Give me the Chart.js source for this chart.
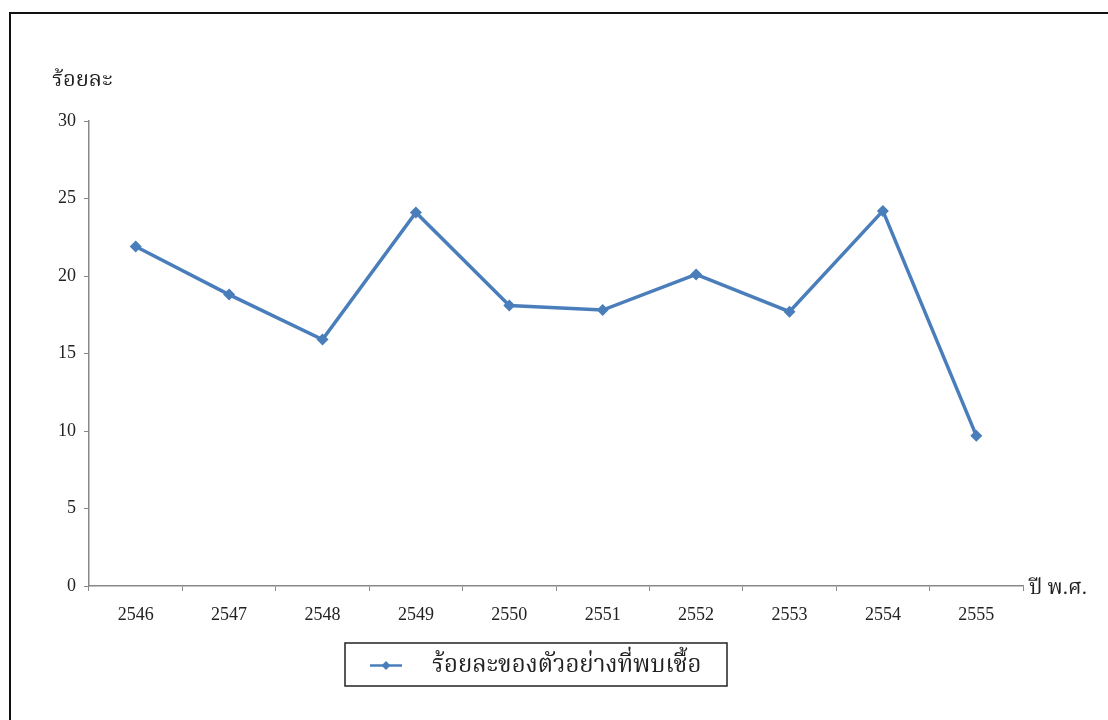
<!DOCTYPE html>
<html>
<head>
<meta charset="utf-8">
<script src="https://cdn.jsdelivr.net/npm/chart.js@4/dist/chart.umd.min.js"></script>
<style>
  html, body { margin: 0; padding: 0; background: #fff; }
  #wrap { position: relative; width: 1108px; height: 720px; overflow: hidden; }
  #frame { position: absolute; left: 9px; top: 12px; width: 1120px; height: 740px; border: 2px solid #111; box-sizing: border-box; }
  canvas { position: absolute; left: 0; top: 0; }
</style>
</head>
<body>
<div id="wrap">
  <div id="frame"></div>
  <canvas id="myChart" width="1108" height="720"></canvas>
</div>
<script>
// ปี พ.ศ. และร้อยละของตัวอย่างที่พบเชื้อ
var years = ["2546", "2547", "2548", "2549", "2550", "2551", "2552", "2553", "2554", "2555"];
var percent = [21.9, 18.8, 15.9, 24.1, 18.1, 17.8, 20.1, 17.7, 24.2, 9.7];
var yTicks = [0, 5, 10, 15, 20, 25, 30];

var seriesName = "ร้อยละของตัวอย่างที่พบเชื้อ";
var yCaption = "ร้อยละ";
var xCaption = "ปี พ.ศ.";

var lineColor = "#4A7EBB";
var serif = "'Liberation Serif', 'Times New Roman', 'Noto Serif Thai', 'Noto Sans Thai', serif";

// captions and the boxed legend
var extras = {
  id: "extras",
  afterDraw: function(chart) {
    var ctx = chart.ctx;
    var area = chart.chartArea;
    ctx.save();
    ctx.fillStyle = "#222";
    ctx.font = "22px " + serif;
    ctx.textBaseline = "middle";
    ctx.textAlign = "left";
    ctx.fillText(yCaption, 52, 80);
    ctx.font = "21px " + serif;
    ctx.fillText(xCaption, area.right + 6, area.bottom + 2);

    // legend box
    var bx = 345, by = 643, bw = 382, bh = 43;
    ctx.strokeStyle = "#222";
    ctx.lineWidth = 1.5;
    ctx.strokeRect(bx, by, bw, bh);
    var cy = by + bh / 2 + 1;
    ctx.strokeStyle = lineColor;
    ctx.lineWidth = 2.5;
    ctx.beginPath();
    ctx.moveTo(370, cy);
    ctx.lineTo(402, cy);
    ctx.stroke();
    ctx.fillStyle = lineColor;
    ctx.beginPath();
    ctx.moveTo(386, cy - 4.5);
    ctx.lineTo(390.5, cy);
    ctx.lineTo(386, cy + 4.5);
    ctx.lineTo(381.5, cy);
    ctx.closePath();
    ctx.fill();
    ctx.fillStyle = "#222";
    ctx.font = "24px " + serif;
    ctx.fillText(seriesName, 432, cy);
    ctx.restore();
  }
};

var ctx = document.getElementById("myChart").getContext("2d");
var myChart = new Chart(ctx, {
  type: "line",
  data: {
    labels: years,
    datasets: [{
      label: seriesName,
      data: percent,
      borderColor: lineColor,
      backgroundColor: lineColor,
      borderWidth: 3.5,
      pointStyle: "rectRot",
      pointRadius: 6,
      pointBorderWidth: 0,
      tension: 0
    }]
  },
  options: {
    responsive: false,
    animation: false,
    events: [],
    layout: { padding: { left: 0, right: 85, top: 121, bottom: 0 } },
    plugins: {
      legend: { display: false },
      tooltip: { enabled: false }
    },
    scales: {
      x: {
        offset: true,
        grid: { offset: true, drawOnChartArea: false, drawTicks: true, tickLength: 5, color: "#888" },
        border: { color: "#888", width: 1.5 },
        ticks: { color: "#222", padding: 13, maxRotation: 0, font: { family: serif, size: 18 } },
        afterFit: function(scale) { scale.height = 134; }
      },
      y: {
        min: 0,
        max: 30,
        afterBuildTicks: function(scale) {
          scale.ticks = yTicks.map(function(v) { return { value: v }; });
        },
        grid: { drawOnChartArea: false, drawTicks: true, tickLength: 5, color: "#888" },
        border: { color: "#888", width: 1.5 },
        ticks: { color: "#222", padding: 8, font: { family: serif, size: 18 } },
        afterFit: function(scale) { scale.width = 89; }
      }
    }
  },
  plugins: [extras]
});
</script>
</body>
</html>
